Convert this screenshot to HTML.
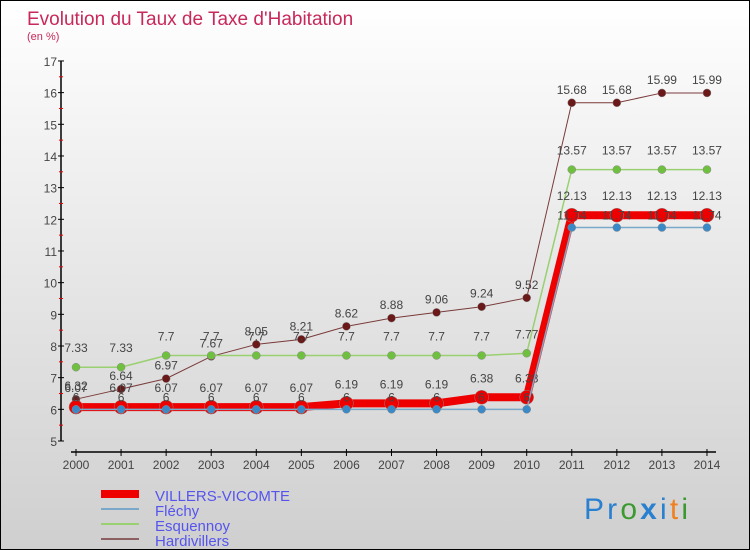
<!DOCTYPE html>
<html><head><meta charset="utf-8"><style>
body{margin:0}
#c{position:relative;width:748px;height:548px;border:1px solid #000;background:linear-gradient(#fff,#f0f0f0 30%,#cfcfcf);overflow:hidden;font-family:"Liberation Sans",sans-serif}
</style></head><body>
<div id="c">
<svg id="s" width="748" height="548" xmlns="http://www.w3.org/2000/svg">
<text x="26" y="24" font-size="19" fill="#c8285a">Evolution du Taux de Taxe d'Habitation</text>
<text x="26" y="39" font-size="11" fill="#c8285a">(en %)</text>
<g id="axes"></g><g id="series"></g>
<g>
<rect x="100" y="489" width="38" height="8" fill="#e00"/>
<text x="154" y="500" font-size="15" fill="#5555ee">VILLERS-VICOMTE</text>
<rect x="100" y="507" width="38" height="2" fill="#7aa8c8"/>
<text x="154" y="515" font-size="15" fill="#5555ee">Fléchy</text>
<rect x="100" y="522" width="38" height="2" fill="#99d070"/>
<text x="154" y="530" font-size="15" fill="#5555ee">Esquennoy</text>
<rect x="100" y="537" width="38" height="2" fill="#8a6060"/>
<text x="154" y="545" font-size="15" fill="#5555ee">Hardivillers</text>
</g>
<text x="583" y="518" font-size="30" textLength="104"><tspan fill="#2a80d0">Pr</tspan><tspan fill="#3a9a30">o</tspan><tspan fill="#2a80d0" font-weight="bold">x</tspan><tspan fill="#2a80d0">i</tspan><tspan fill="#f08020">t</tspan><tspan fill="#3a9a30">i</tspan></text>
</svg></div>
<script>
const years=[2000,2001,2002,2003,2004,2005,2006,2007,2008,2009,2010,2011,2012,2013,2014];
const yTicks=[5,6,7,8,9,10,11,12,13,14,15,16,17];
const villers=[6.07,6.07,6.07,6.07,6.07,6.07,6.19,6.19,6.19,6.38,6.38,12.13,12.13,12.13,12.13];
const flechy=[6,6,6,6,6,6,6,6,6,6,6,11.74,11.74,11.74,11.74];
const esquennoy=[7.33,7.33,7.7,7.7,7.7,7.7,7.7,7.7,7.7,7.7,7.77,13.57,13.57,13.57,13.57];
const hardivillers=[6.32,6.64,6.97,7.67,8.05,8.21,8.62,8.88,9.06,9.24,9.52,15.68,15.68,15.99,15.99];
const NS="http://www.w3.org/2000/svg";
const X=i=>75+i*45.07, Y=v=>440-(v-5)*31.67;
function mk(t,a,p){const e=document.createElementNS(NS,t);for(const k in a)e.setAttribute(k,a[k]);p.appendChild(e);return e;}
const ax=document.getElementById('axes');
let l=mk('line',{x1:60,y1:60,x2:60,y2:440,stroke:'#000','stroke-width':1.5},ax);


l=mk('line',{x1:70,y1:451,x2:715,y2:451,stroke:'#000','stroke-width':1.5},ax);


yTicks.forEach(v=>{mk('line',{x1:57,y1:Y(v),x2:63,y2:Y(v),stroke:'#000'},ax);
 if(v<17)mk('line',{x1:58,y1:Y(v+0.5),x2:62,y2:Y(v+0.5),stroke:'#e00'},ax);
 const t=mk('text',{x:56,y:Y(v)+5,'font-size':12,fill:'#444','text-anchor':'end'},ax);t.textContent=v;
 
 });
years.forEach((y,i)=>{mk('line',{x1:X(i),y1:448,x2:X(i),y2:455,stroke:'#000'},ax);
 const t=mk('text',{x:X(i),y:468,'font-size':12,fill:'#444','text-anchor':'middle'},ax);t.textContent=y;
 
 });
const sg=document.getElementById('series');
function draw(vals,col,dot,w,r,name,lab){
 const g=mk('g',{},sg);
 
 
 mk('polyline',{points:vals.map((v,i)=>X(i)+','+Y(v)).join(' '),fill:'none',stroke:col,'stroke-width':w},g);
 vals.forEach((v,i)=>{const c=mk('circle',{cx:X(i),cy:Y(v),r:r,fill:dot,stroke:'#888','stroke-width':0.5},g);
  
  
  const t=mk('text',{x:X(i),y:Y(v)-lab,'font-size':12,fill:'#444','text-anchor':'middle'},g);t.textContent=v;});
}
draw(hardivillers,'#7a3a3a','#6a1818',1,4,'series-hardivillers',9);
draw(esquennoy,'#99d070','#70c040',1.5,4,'series-esquennoy',15);
draw(villers,'#ee0000','#ee0000',8,7,'series-villers',15);
draw(flechy,'#7aa8c8','#3a8ac8',1.5,4,'series-flechy',8);
</script>
</body></html>
